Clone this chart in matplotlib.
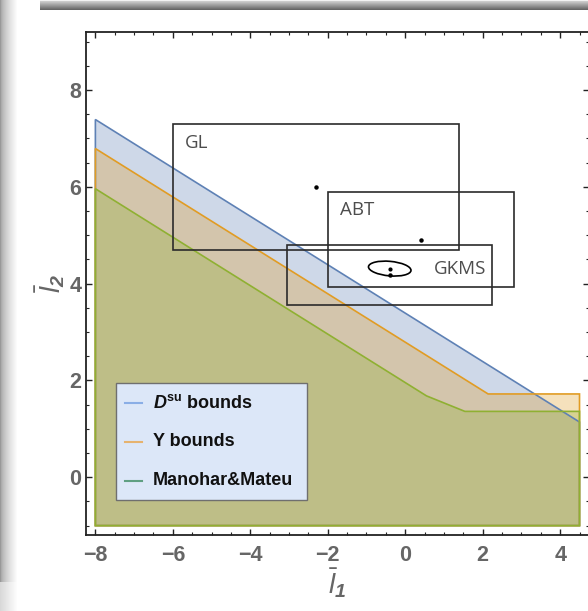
import numpy as np
import matplotlib
matplotlib.use("Agg")
import matplotlib.pyplot as plt
from matplotlib.patches import Polygon, Rectangle, Ellipse
from matplotlib.ticker import MultipleLocator

plt.rcParams['mathtext.fontset'] = 'custom'
plt.rcParams['mathtext.rm'] = 'Liberation Sans'
plt.rcParams['mathtext.it'] = 'Liberation Sans:italic'
plt.rcParams['mathtext.bf'] = 'Liberation Sans:bold'
plt.rcParams['mathtext.bfit'] = 'Liberation Sans:italic:bold'

# allowed regions (l1, l2 vertices)
dsu_x = [-8, 4.5, 4.5, -8]
dsu_y = [7.39, 1.14, -1, -1]
ybd_x = [-8, 2.14, 4.5, 4.5, -8]
ybd_y = [6.79, 1.72, 1.72, -1, -1]
mm_x = [-8, 0.55, 1.54, 4.5, 4.5, -8]
mm_y = [5.96, 1.68, 1.36, 1.36, -1, -1]

# fits: name, l1 range, l2 range, central value
fit_names = ["GL", "ABT", "GKMS"]
fit_l1 = [(-6.0, 1.4), (-2.0, 2.8), (-3.05, 2.25)]
fit_l2 = [(4.7, 7.3), (3.92, 5.89), (3.56, 4.79)]
fit_label_pos = [(-5.68, 6.91), (-1.69, 5.53), (0.75, 4.30)]
gkms_ellipse = (-0.40, 4.31, 1.10, 0.30)

legend_labels = [r'$\mathbfit{D}^{\mathbf{su}}$ bounds', 'Y bounds', 'Manohar&Mateu']
edge_colors = ['#5E81B5', '#E19C24', '#8FB032']
legend_colors = ['#8AAEE6', '#E6B36F', '#5F9F82']

fig = plt.figure(figsize=(5.88, 6.11), dpi=100)

# screenshot shading around the picture
H, W = 611, 588
bg = np.ones((H, W, 3))
xs = np.arange(18)
strip = 0.6 + 0.4 * (xs / 17.0) ** 0.6
bg[:, :18, :] = strip[None, :, None]
bg[582:, :18, :] = (0.85 + 0.15 * (xs / 17.0))[None, :, None]
ys = np.arange(10)
bar = 0.85 - 0.45 * ys / 9.0
bg[:10, 40:, :] = bar[:, None, None]
bg[0, 40:, :] = 0.95
fig.figimage(bg, xo=0, yo=0, origin='upper', zorder=-5)

ax = fig.add_axes([85.7 / 588, 1 - 535.3 / 611, 503.5 / 588, 503.4 / 611])
ax.set_xlim(-8.25, 4.75)
ax.set_ylim(-1.2, 9.2)

for px, py, c in zip([dsu_x, ybd_x, mm_x], [dsu_y, ybd_y, mm_y], edge_colors):
    ax.add_patch(Polygon(np.column_stack([px, py]), closed=True, facecolor=c,
                         alpha=0.3, edgecolor='none', zorder=1))
    ax.add_patch(Polygon(np.column_stack([px, py]), closed=True, facecolor='none',
                         edgecolor=c, lw=1.2, zorder=1.5))

for name, (x0, x1), (y0, y1), (tx, ty) in zip(fit_names, fit_l1, fit_l2, fit_label_pos):
    ax.add_patch(Rectangle((x0, y0), x1 - x0, y1 - y0, fill=False,
                           edgecolor='#2b2b2b', lw=1.2, zorder=3))
    ax.plot([(x0 + x1) / 2], [(y0 + y1) / 2], 'o', color='black', ms=2.2, zorder=4)
    ax.text(tx, ty, name, family='Open Sans', fontsize=13.5, color='#4d4d4d',
            va='center', ha='left', zorder=4)

ex, ey, ew, eh = gkms_ellipse
ax.add_patch(Ellipse((ex, ey), ew, eh, angle=-4, fill=False, edgecolor='black', lw=1.2, zorder=4))
ax.plot([ex], [ey], 'o', color='black', ms=2.0, zorder=4)

# legend box
ax.add_patch(Rectangle((0.060, 0.070), 0.380, 0.233, transform=ax.transAxes,
                       facecolor='#DCE7F8', edgecolor='#6f6f6f', lw=1.0, zorder=5))
rows = [0.2634, 0.186, 0.108]
for lab, c, ry in zip(legend_labels, legend_colors, rows):
    ax.plot([0.078, 0.111], [ry, ry], color=c, lw=1.5, transform=ax.transAxes, zorder=6)
    ax.text(0.134, ry, lab, transform=ax.transAxes, fontsize=13, fontweight='bold',
            family='Liberation Sans', va='center', ha='left', color='#111111', zorder=6)

ax.set_xticks([-8, -6, -4, -2, 0, 2, 4])
ax.set_yticks([0, 2, 4, 6, 8])
ax.xaxis.set_minor_locator(MultipleLocator(0.5))
ax.yaxis.set_minor_locator(MultipleLocator(0.5))
ax.tick_params(which='both', direction='in', top=True, right=True, color='#222222')
ax.tick_params(which='major', length=4.5, width=1.0)
ax.tick_params(which='minor', length=2.5, width=0.8)
ax.tick_params(axis='x', pad=7)
ax.tick_params(axis='y', pad=3)
for t in ax.get_xticklabels() + ax.get_yticklabels():
    t.set_family('Liberation Sans')
    t.set_fontweight('bold')
    t.set_fontsize(15.5)
    t.set_color('#666666')
for s in ax.spines.values():
    s.set_linewidth(1.3)
    s.set_color('#222222')

ax.set_xlabel(r'$\bar{l}_{\mathbfit{1}}$', fontsize=20, color='#666666', labelpad=0)
ax.set_ylabel(r'$\bar{l}_{\mathbfit{2}}$', fontsize=20, color='#666666', labelpad=2)

fig.savefig('out.png', dpi=100)
